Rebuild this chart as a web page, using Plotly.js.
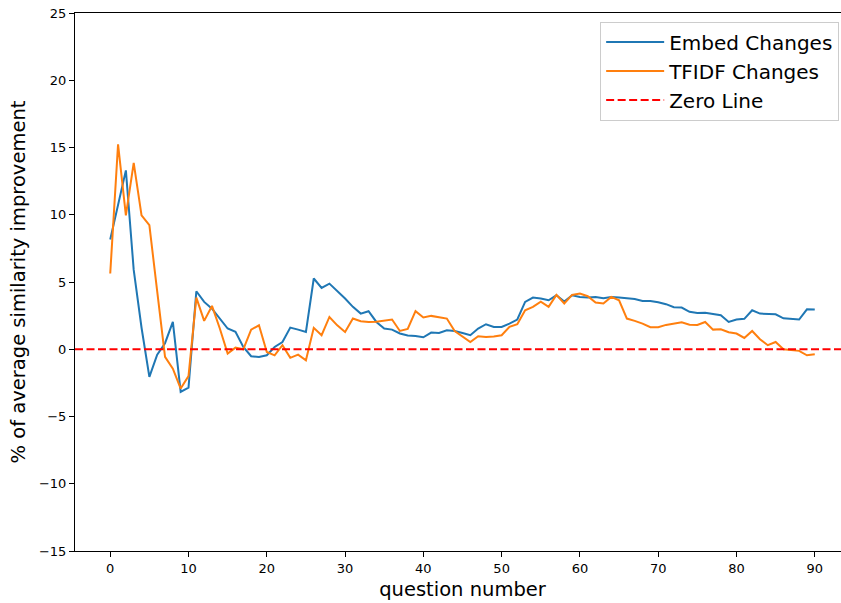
<!DOCTYPE html>
<html>
<head>
<meta charset="utf-8">
<script src="https://cdn.plot.ly/plotly-3.0.1.min.js"></script>
<style>
html,body{margin:0;padding:0;overflow:hidden;background:#fff;}
#chart{width:860px;height:603px;}
</style>
</head>
<body>
<div id="chart"></div>
<script>
const embedChanges = [8.16, 10.7, 13.3, 5.9, 1.6, -2.05, -0.4, 0.45, 2.03, -3.17, -2.85,
  4.31, 3.52, 3.02, 2.28, 1.54, 1.29, 0.17, -0.52, -0.57, -0.45,
  0.17, 0.54, 1.61, 1.46, 1.29, 5.26, 4.56, 4.88, 4.34, 3.77,
  3.15, 2.65, 2.83, 2.03, 1.54, 1.46, 1.17, 1.02, 0.99, 0.89,
  1.24, 1.21, 1.41, 1.36, 1.21, 1.04, 1.54, 1.86, 1.66, 1.66,
  1.91, 2.21, 3.52, 3.84, 3.77, 3.64, 4.01, 3.55, 4.01, 3.89,
  3.84, 3.89, 3.79, 3.89, 3.84, 3.79, 3.74, 3.59, 3.59, 3.49,
  3.35, 3.12, 3.10, 2.78, 2.70, 2.72, 2.65, 2.53, 2.03, 2.21,
  2.26, 2.90, 2.65, 2.63, 2.60, 2.30, 2.26, 2.21, 2.97, 2.95];

const tfidfChanges = [5.63, 15.24, 9.96, 13.85, 9.96, 9.22, 4.3, -0.57, -1.44, -2.92, -2.0,
  3.84, 2.11, 3.22, 1.54, -0.32, 0.12, 0.0, 1.46, 1.78, -0.2,
  -0.45, 0.3, -0.64, -0.4, -0.82, 1.59, 1.04, 2.4, 1.78, 1.29,
  2.28, 2.08, 2.03, 2.05, 2.11, 2.21, 1.36, 1.51, 2.83, 2.36,
  2.48, 2.40, 2.28, 1.36, 0.97, 0.54, 0.97, 0.92, 0.94, 1.04,
  1.66, 1.86, 2.90, 3.15, 3.54, 3.15, 4.04, 3.40, 4.04, 4.14,
  3.94, 3.47, 3.40, 3.89, 3.64, 2.28, 2.11, 1.91, 1.64, 1.64,
  1.81, 1.93, 2.01, 1.83, 1.81, 2.03, 1.46, 1.49, 1.26, 1.17,
  0.84, 1.36, 0.74, 0.30, 0.54, 0.0, -0.05, -0.12, -0.45, -0.37];

const questionNumbers = embedChanges.map((_, i) => i);
const xTicks = [0, 10, 20, 30, 40, 50, 60, 70, 80, 90];
const yTicks = [-15, -10, -5, 0, 5, 10, 15, 20, 25];
const xRange = [-4.5, 94.5];
const yRange = [-15, 25];
const seriesNames = ['Embed Changes', 'TFIDF Changes', 'Zero Line'];

const font = 'DejaVu Sans, sans-serif';

const traces = [
  {x: questionNumbers, y: embedChanges, type: 'scatter', mode: 'lines', name: seriesNames[0],
   line: {color: '#1f77b4', width: 2}},
  {x: questionNumbers, y: tfidfChanges, type: 'scatter', mode: 'lines', name: seriesNames[1],
   line: {color: '#ff7f0e', width: 2}},
  {x: xRange, y: [0, 0], type: 'scatter', mode: 'lines', name: seriesNames[2],
   line: {color: '#ff0000', width: 2, dash: '8px,3.5px'}}
];

const layout = {
  width: 860, height: 603,
  margin: {l: 75.3, r: 10, t: 13, b: 52},
  paper_bgcolor: '#fff', plot_bgcolor: '#fff',
  font: {family: font, color: '#000', size: 13},
  showlegend: true,
  legend: {
    x: 0.986, xanchor: 'right', y: 0.984, yanchor: 'top',
    bgcolor: 'rgba(255,255,255,0.8)', bordercolor: '#cccccc', borderwidth: 1,
    font: {family: font, size: 20, color: '#000'},
    itemwidth: 58,
    tracegroupgap: 0
  },
  xaxis: {
    range: xRange, tickvals: xTicks, ticktext: xTicks.map(String),
    showgrid: false, zeroline: false,
    showline: true, linecolor: '#000', linewidth: 1, mirror: true,
    ticks: 'outside', ticklen: 5, tickwidth: 1, tickcolor: '#000',
    tickfont: {family: font, size: 13, color: '#000'},
    title: {text: 'question number', font: {family: font, size: 19.5, color: '#000'}, standoff: 7}
  },
  yaxis: {
    range: yRange, tickvals: yTicks, ticktext: yTicks.map(v => v < 0 ? '\u2212' + Math.abs(v) : String(v)),
    showgrid: false, zeroline: false,
    showline: true, linecolor: '#000', linewidth: 1, mirror: true,
    ticks: 'outside', ticklen: 5, tickwidth: 1, tickcolor: '#000',
    tickfont: {family: font, size: 13, color: '#000'},
    title: {text: '% of average similarity improvement', font: {family: font, size: 19.5, color: '#000'}, standoff: 8}
  }
};

Plotly.newPlot('chart', traces, layout, {staticPlot: true, displayModeBar: false});
</script>
</body>
</html>
